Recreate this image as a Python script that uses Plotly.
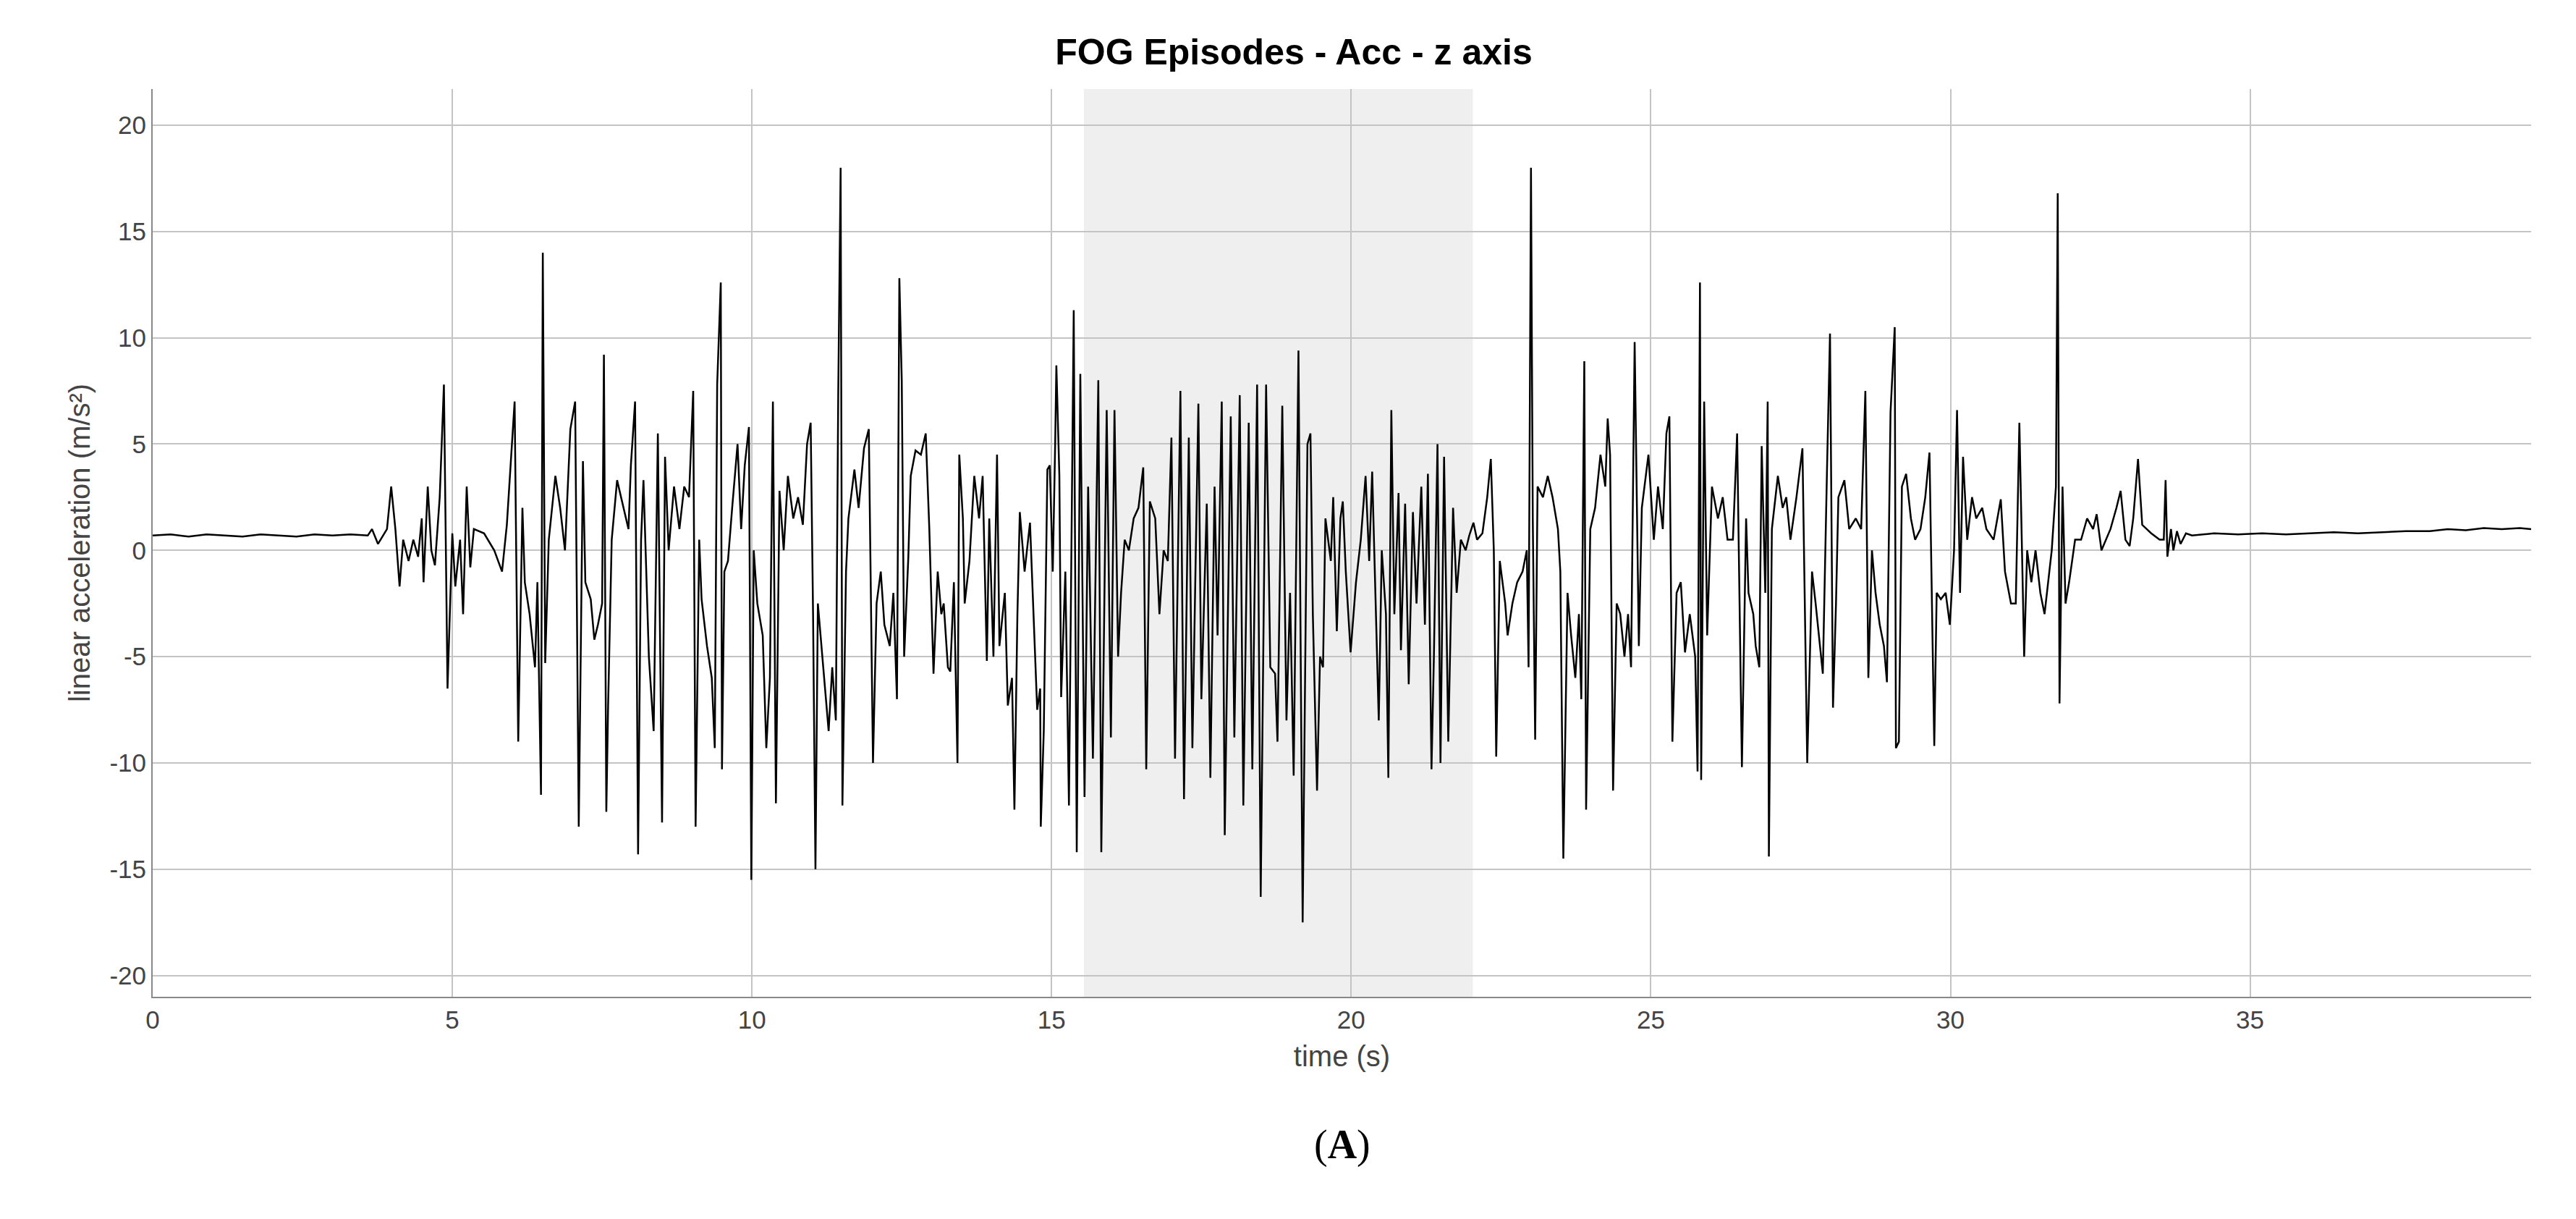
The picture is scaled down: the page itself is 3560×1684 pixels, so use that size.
import plotly.graph_objects as go

# signal (time s, linear acceleration m/s^2)
time_s = [
    0.0, 0.3, 0.6, 0.9, 1.2, 1.5, 1.8, 2.1, 2.4, 2.7, 3.0, 3.3, 3.59,
    3.66, 3.76, 3.91, 3.98, 4.05, 4.12, 4.18, 4.27, 4.35, 4.43, 4.49, 4.52, 4.59, 4.65, 4.71, 4.79, 4.86, 4.92,
    5.0, 5.05, 5.13, 5.18, 5.24, 5.30, 5.36, 5.53, 5.70, 5.83, 5.91, 6.0, 6.04, 6.10, 6.17, 6.21, 6.29, 6.38,
    6.42, 6.48, 6.51, 6.55, 6.61, 6.72, 6.80, 6.88, 6.97, 7.05, 7.11, 7.18, 7.22, 7.31, 7.37, 7.43, 7.50, 7.53,
    7.57, 7.60, 7.66, 7.75, 7.86, 7.94, 7.98, 8.05, 8.10, 8.15, 8.19, 8.28, 8.36, 8.43, 8.47, 8.50, 8.55, 8.61,
    8.70, 8.79, 8.87, 8.95, 9.02, 9.06, 9.12, 9.16, 9.25, 9.33, 9.38, 9.42, 9.48, 9.50, 9.54, 9.60, 9.67, 9.76,
    9.82, 9.88, 9.95, 9.99, 10.03, 10.09, 10.18, 10.24, 10.30, 10.35, 10.40, 10.46, 10.53, 10.60, 10.69, 10.77,
    10.85, 10.92, 10.98, 11.02, 11.06, 11.10, 11.19, 11.28, 11.34, 11.40, 11.44, 11.48, 11.51, 11.57, 11.61,
    11.71, 11.78, 11.87, 11.95, 12.02, 12.08, 12.15, 12.21, 12.30, 12.36, 12.42, 12.46, 12.50, 12.54,
    12.61, 12.65, 12.73, 12.82, 12.90, 12.96, 13.03, 13.10, 13.16, 13.20, 13.27, 13.31, 13.37, 13.43, 13.46,
    13.52, 13.55, 13.63, 13.71, 13.79, 13.85, 13.92, 13.96, 14.03, 14.09, 14.13, 14.22, 14.27, 14.34, 14.38,
    14.43, 14.47, 14.55, 14.64, 14.72, 14.76, 14.81, 14.82, 14.87, 14.93, 14.97, 15.02, 15.06, 15.08, 15.13,
    15.16, 15.23, 15.29, 15.37, 15.42, 15.48, 15.55, 15.61, 15.69, 15.78, 15.83, 15.92, 15.99, 16.05, 16.11,
    16.16, 16.22, 16.29, 16.37, 16.45, 16.53, 16.58, 16.64, 16.73, 16.80, 16.87, 16.94, 17.0, 17.06, 17.15,
    17.21, 17.29, 17.35, 17.45, 17.50, 17.59, 17.65, 17.72, 17.77, 17.84, 17.89, 17.99, 18.05, 18.14, 18.20,
    18.29, 18.35, 18.43, 18.49, 18.58, 18.65, 18.73, 18.77, 18.85, 18.92, 18.98, 19.04, 19.12, 19.19, 19.27,
    19.32, 19.36, 19.43, 19.48, 19.53, 19.57, 19.66, 19.70, 19.76, 19.82, 19.86, 19.91, 19.99, 20.08, 20.16,
    20.24, 20.30, 20.35, 20.46, 20.51, 20.58, 20.62, 20.67, 20.72, 20.79, 20.83, 20.90, 20.96, 21.03, 21.09,
    21.17, 21.23, 21.28, 21.34, 21.38, 21.44, 21.49, 21.55, 21.62, 21.70, 21.76, 21.83, 21.91, 21.97, 22.04,
    22.10, 22.19, 22.27, 22.33, 22.38, 22.42, 22.48, 22.57, 22.61, 22.69, 22.77, 22.86, 22.93, 22.96, 23.0,
    23.03, 23.07, 23.11, 23.20, 23.28, 23.36, 23.45, 23.49, 23.54, 23.61, 23.67, 23.74, 23.80, 23.84, 23.89,
    23.92, 23.99, 24.07, 24.16, 24.24, 24.28, 24.32, 24.37, 24.43, 24.49, 24.56, 24.62, 24.67, 24.73, 24.80,
    24.85, 24.96, 25.05, 25.12, 25.20, 25.26, 25.31, 25.36, 25.43, 25.50, 25.57, 25.65, 25.74, 25.78, 25.82,
    25.84, 25.89, 25.94, 26.02, 26.12, 26.20, 26.28, 26.37, 26.44, 26.52, 26.59, 26.63, 26.71, 26.75, 26.81,
    26.85, 26.91, 26.95, 26.97, 27.02, 27.12, 27.20, 27.26, 27.33, 27.43, 27.53, 27.61, 27.69, 27.75, 27.82,
    27.87, 27.94, 27.99, 28.04, 28.09, 28.13, 28.23, 28.31, 28.42, 28.51, 28.58, 28.63, 28.69, 28.75, 28.82,
    28.89, 28.94, 29.00, 29.07, 29.09, 29.14, 29.19, 29.26, 29.34, 29.41, 29.50, 29.58, 29.65, 29.73, 29.77,
    29.84, 29.92, 29.99, 30.06, 30.11, 30.16, 30.21, 30.28, 30.36, 30.43, 30.53, 30.60, 30.72, 30.84, 30.91,
    31.01, 31.09, 31.15, 31.23, 31.28, 31.35, 31.42, 31.50, 31.57, 31.69, 31.76, 31.79, 31.82, 31.87, 31.92,
    31.98, 32.08, 32.18, 32.28, 32.38, 32.44, 32.52, 32.67, 32.77, 32.84, 32.92, 32.99, 33.05, 33.13, 33.20,
    33.35, 33.49, 33.56, 33.59, 33.62, 33.68, 33.72, 33.78, 33.84, 33.93, 34.03, 34.4, 34.8, 35.2, 35.6,
    36.0, 36.4, 36.8, 37.2, 37.6, 38.0, 38.3, 38.6, 38.9, 39.2, 39.5, 39.69,
]
accel = [
    0.7, 0.75, 0.65, 0.75, 0.7, 0.65, 0.75, 0.7, 0.65, 0.75, 0.7, 0.75, 0.7,
    1.0, 0.3, 1.0, 3.0, 1.0, -1.7, 0.5, -0.5, 0.5, -0.3, 1.5, -1.5, 3.0, 0.0, -0.7, 2.5, 7.8, -6.5,
    0.8, -1.7, 0.5, -3.0, 3.0, -0.8, 1.0, 0.8, 0.0, -1.0, 1.2, 5.3, 7.0, -9.0, 2.0, -1.5, -3.0, -5.5,
    -1.5, -11.5, 14.0, -5.3, 0.5, 3.5, 2.0, 0.0, 5.7, 7.0, -13.0, 4.2, -1.5, -2.3, -4.2, -3.5, -2.5, 9.2,
    -12.3, -7.3, 0.5, 3.3, 2.0, 1.0, 4.0, 7.0, -14.3, 0.5, 3.3, -5.0, -8.5, 5.5, -5.0, -12.8, 4.4, 0.0,
    3.0, 1.0, 3.0, 2.5, 7.5, -13.0, 0.5, -2.3, -4.5, -6.0, -9.3, 7.8, 12.6, -10.3, -1.0, -0.5, 2.0, 5.0,
    1.0, 4.0, 5.8, -15.5, 0.0, -2.5, -4.0, -9.3, -6.0, 7.0, -11.9, 2.8, 0.0, 3.5, 1.5, 2.5,
    1.2, 5.0, 6.0, -3.0, -15.0, -2.5, -5.5, -8.5, -5.5, -8.0, 7.3, 18.0, -12.0, -1.0, 1.5,
    3.8, 2.0, 4.8, 5.7, -10.0, -2.5, -1.0, -3.5, -4.5, -2.0, -7.0, 12.8, 8.0, -5.0,
    -0.3, 3.5, 4.7, 4.5, 5.5, 1.0, -5.8, -1.0, -3.0, -2.5, -5.5, -5.7, -1.5, -10.0, 4.5,
    1.5, -2.5, -0.5, 3.5, 1.5, 3.5, -5.2, 1.5, -5.0, 4.5, -4.5, -2.0, -7.3, -6.0, -12.2,
    -3.0, 1.8, -1.0, 1.3, -5.0, -7.5, -6.5, -13.0, -8.5, 3.8, 4.0, -1.0, 5.0, 8.7, 3.5,
    -6.9, -1.0, -12.0, 11.3, -14.2, 8.3, -11.6, 3.0, -9.8, 8.0, -14.2, 6.6, -8.8, 6.6, -5.0,
    -2.0, 0.5, 0.0, 1.5, 2.0, 3.9, -10.3, 2.3, 1.5, -3.0, 0.0, -0.5, 5.3, -9.8, 7.5,
    -11.7, 5.3, -9.3, 6.9, -7.0, 2.2, -10.7, 3.0, -4.0, 7.0, -13.4, 6.3, -8.8, 7.3, -12.0,
    6.0, -10.3, 7.8, -16.3, 7.8, -5.5, -5.8, -9.0, 6.8, -8.0, -2.0, -10.6, 9.4, -17.5, 5.0,
    5.5, -3.0, -11.3, -5.0, -5.5, 1.5, -0.5, 2.5, -3.8, 1.5, 2.3, -1.0, -4.8, -1.5, 0.5,
    3.5, -0.5, 3.7, -8.0, 0.0, -3.0, -10.7, 6.6, -3.0, 2.7, -4.7, 2.2, -6.3, 1.8, -2.5,
    3.0, -3.5, 3.6, -10.3, -5.0, 5.0, -10.0, 4.4, -9.0, 2.0, -2.0, 0.5, 0.0, 0.7, 1.3,
    0.5, 0.8, 2.5, 4.3, 0.0, -9.7, -0.5, -2.5, -4.0, -2.5, -1.5, -1.0, 0.0, -5.5, 18.0,
    1.5, -8.9, 3.0, 2.5, 3.5, 2.5, 1.0, -1.0, -14.5, -2.0, -4.0, -6.0, -3.0, -7.0, 8.9,
    -12.2, 1.0, 2.0, 4.5, 3.0, 6.2, 4.5, -11.3, -2.5, -3.0, -5.0, -3.0, -5.5, 9.8, -4.5,
    2.0, 4.5, 0.5, 3.0, 1.0, 5.5, 6.3, -9.0, -2.0, -1.5, -4.8, -3.0, -5.0, -10.4, 12.6,
    -10.8, 7.0, -4.0, 3.0, 1.5, 2.5, 0.5, 0.5, 5.5, -10.2, 1.5, -2.0, -3.0, -4.5, -5.5,
    4.9, -2.0, 7.0, -14.4, 1.0, 3.5, 2.0, 2.5, 0.5, 2.5, 4.8, -10.0, -1.0, -2.5, -4.5,
    -5.8, 3.8, 10.2, -7.4, -2.5, 2.5, 3.3, 1.0, 1.5, 1.0, 7.5, -6.0, 0.0, -2.0, -3.5,
    -4.5, -6.2, 6.5, 10.5, -9.3, -9.0, 3.0, 3.6, 1.5, 0.5, 1.0, 2.5, 4.6, -9.2, -2.0,
    -2.3, -2.0, -3.5, 0.0, 6.6, -2.0, 4.4, 0.5, 2.5, 1.5, 2.0, 1.0, 0.5, 2.4, -1.0,
    -2.5, -2.5, 6.0, -5.0, 0.0, -1.5, 0.0, -2.0, -3.0, 0.0, 3.0, 16.8, -7.2, 3.0, -2.5,
    -1.5, 0.5, 0.5, 1.5, 1.0, 1.7, 0.0, 1.0, 2.0, 2.8, 0.5, 0.2, 1.5, 4.3, 1.2,
    0.8, 0.5, 0.5, 3.3, -0.3, 1.0, 0.0, 0.9, 0.3, 0.8, 0.7, 0.8, 0.75, 0.8, 0.75,
    0.8, 0.85, 0.8, 0.85, 0.9, 0.9, 1.0, 0.95, 1.05, 1.0, 1.05, 1.0,
]

fog_start, fog_end = 15.54, 22.03
x_ticks = [0, 5, 10, 15, 20, 25, 30, 35]
y_ticks = [-20, -15, -10, -5, 0, 5, 10, 15, 20]
y_tick_labels = ["-20", "-15", "-10", "-5", "0", "5", "10", "15", "20"]

fig = go.Figure()
fig.add_vrect(x0=fog_start, x1=fog_end, fillcolor="#efefef", line_width=0, layer="below")
fig.add_trace(go.Scatter(x=time_s, y=accel, mode="lines", line=dict(color="black", width=2.5), showlegend=False))

axis_common = dict(
    showgrid=True, gridcolor="#c4c4c4", gridwidth=2, showline=True, linecolor="#888", linewidth=2,
    ticks="", tickfont=dict(family="Liberation Sans, Arial", size=35, color="#444"),
    zeroline=False,
)
fig.update_xaxes(
    range=[0, 39.69], tickvals=x_ticks, title=dict(text="time (s)", font=dict(size=40, color="#444"), standoff=18),
    **axis_common,
)
fig.update_yaxes(
    range=[-21.0, 21.7], tickvals=y_ticks, ticktext=y_tick_labels,
    title=dict(text="linear acceleration (m/s²)", font=dict(size=40, color="#444"), standoff=14),
    **axis_common,
)
fig.update_layout(
    width=3560, height=1684,
    margin=dict(l=203, r=70, t=115, b=315),
    paper_bgcolor="white", plot_bgcolor="white",
    font=dict(family="Liberation Sans, Arial"),
    title=dict(text="<b>FOG Episodes - Acc - z axis</b>", x=0.5, xanchor="center", y=0.962, yanchor="middle",
               font=dict(size=50, color="black")),
    annotations=[dict(text="(<b>A</b>)", xref="paper", yref="paper", x=0.5, y=-0.19, showarrow=False,
                      font=dict(family="Liberation Serif, Times New Roman", size=56, color="black"))],
)

fig.write_html("out.html")
